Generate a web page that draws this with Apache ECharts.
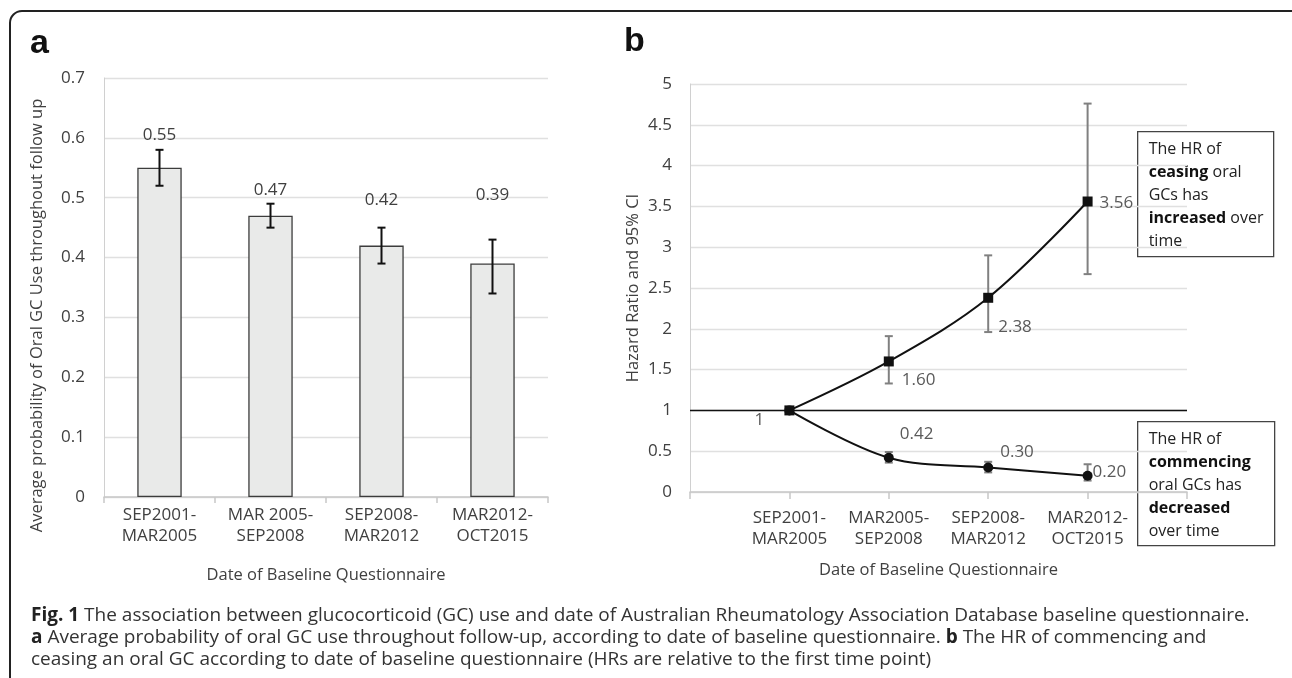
<!DOCTYPE html>
<html>
<head>
<meta charset="utf-8">
<script src="https://cdn.jsdelivr.net/npm/echarts@6/dist/echarts.min.js"></script>
<style>
  html, body { margin: 0; padding: 0; background: #fff; }
  #fig { width: 1292px; height: 678px; }
</style>
</head>
<body>
<div id="fig"></div>
<script>
// panel a: average probability of oral GC use
const periodsA = ['SEP2001-\nMAR2005', 'MAR 2005-\nSEP2008', 'SEP2008-\nMAR2012', 'MAR2012-\nOCT2015']
const gcProb = [0.55, 0.47, 0.42, 0.39]
const gcLow = [0.52, 0.45, 0.39, 0.34]
const gcHigh = [0.58, 0.49, 0.45, 0.43]
const probTicks = [0, 0.7, 0.1]   // min, max, step

// panel b: hazard ratios (first and last category left blank)
const periodsB = ['', 'SEP2001-\nMAR2005', 'MAR2005-\nSEP2008', 'SEP2008-\nMAR2012', 'MAR2012-\nOCT2015', '']
const ceaseHR = [1, 1.60, 2.38, 3.56]
const ceaseLow = [null, 1.33, 1.96, 2.67]
const ceaseHigh = [null, 1.91, 2.90, 4.76]
const commHR = [1, 0.42, 0.30, 0.20]
const commLow = [null, 0.36, 0.24, 0.14]
const commHigh = [null, 0.49, 0.37, 0.34]
const hrTicks = [0, 5, 0.5]

// label placement (px), style only
const barLabelLift = [15, 14, 27, 44]
const ceaseNudge = [[-35, 10], [13, 19], [10, 29], [12, 2]]
const commNudge = [null, [11, -24], [12, -15], [5, -4]]

const FONT = '"Open Sans", "Noto Sans", sans-serif'
const INK = '#404040'
const GRID = '#e0e0e0'

// error bar drawn with a vertical line and two caps
function errorBar(color, width, capHalf, labelFn) {
  return function (params, api) {
    const x = api.value(0)
    const lo = api.value(1)
    const hi = api.value(2)
    const kids = []
    if (!isNaN(lo) && !isNaN(hi)) {
      const top = api.coord([x, hi])
      const bot = api.coord([x, lo])
      const st = { stroke: color, lineWidth: width }
      kids.push(
        { type: 'line', shape: { x1: top[0], y1: top[1], x2: bot[0], y2: bot[1] }, style: st },
        { type: 'line', shape: { x1: top[0] - capHalf, y1: top[1], x2: top[0] + capHalf, y2: top[1] }, style: st },
        { type: 'line', shape: { x1: bot[0] - capHalf, y1: bot[1], x2: bot[0] + capHalf, y2: bot[1] }, style: st }
      )
    }
    const lab = labelFn(params.dataIndex, api)
    if (lab) kids.push(lab)
    return { type: 'group', children: kids }
  }
}

const chart = echarts.init(document.getElementById('fig'), null, { renderer: 'canvas' })

chart.setOption({
  backgroundColor: '#fff',
  animation: false,
  textStyle: { fontFamily: FONT },
  grid: [
    { left: 104, top: 78, width: 444, height: 419 },
    { left: 690, top: 84, width: 497, height: 408 }
  ],
  xAxis: [
    {
      gridIndex: 0, type: 'category', data: periodsA,
      axisLine: { lineStyle: { color: '#c8c8c8', width: 1.5 } },
      axisTick: { show: true, length: 6, lineStyle: { color: '#c8c8c8', width: 1.5 } },
      axisLabel: { color: INK, fontSize: 17, lineHeight: 21, margin: 8, fontFamily: FONT },
      name: 'Date of Baseline Questionnaire', nameLocation: 'middle', nameGap: 70,
      nameTextStyle: { color: INK, fontSize: 16.5, fontFamily: FONT }
    },
    {
      gridIndex: 1, type: 'category', data: periodsB, boundaryGap: false,
      axisLine: { lineStyle: { color: '#c8c8c8', width: 1.5 } },
      axisTick: { show: true, length: 7, interval: 0, lineStyle: { color: '#c8c8c8', width: 1.5 } },
      axisLabel: { color: INK, fontSize: 17, lineHeight: 21, margin: 16, interval: 0, fontFamily: FONT },
      splitLine: { show: false },
      name: 'Date of Baseline Questionnaire', nameLocation: 'middle', nameGap: 70,
      nameTextStyle: { color: INK, fontSize: 16.5, fontFamily: FONT }
    }
  ],
  yAxis: [
    {
      gridIndex: 0, type: 'value', min: probTicks[0], max: probTicks[1], interval: probTicks[2],
      axisLine: { show: true, lineStyle: { color: '#d0d0d0' } },
      axisTick: { show: false },
      axisLabel: { color: INK, fontSize: 17, margin: 19, fontFamily: FONT },
      splitLine: { lineStyle: { color: GRID, width: 1.3 } },
      name: 'Average probability of Oral GC Use throughout follow up',
      nameLocation: 'middle', nameGap: 58,
      nameTextStyle: { color: INK, fontSize: 16.5, fontFamily: FONT, padding: [0, 56, 0, 0] }
    },
    {
      gridIndex: 1, type: 'value', min: hrTicks[0], max: hrTicks[1], interval: hrTicks[2],
      axisLine: { show: true, lineStyle: { color: '#d0d0d0' } },
      axisTick: { show: false },
      axisLabel: { color: INK, fontSize: 17, margin: 18, fontFamily: FONT },
      splitLine: { lineStyle: { color: GRID, width: 1.3 } },
      name: 'Hazard Ratio and 95% CI',
      nameLocation: 'middle', nameGap: 48,
      nameTextStyle: { color: INK, fontSize: 16.5, fontFamily: FONT }
    }
  ],
  series: [
    {
      type: 'bar', xAxisIndex: 0, yAxisIndex: 0,
      data: gcProb, barWidth: '40%',
      itemStyle: { color: '#e9eae9', borderColor: '#3c3c3c', borderWidth: 1.3 },
      silent: true
    },
    {
      type: 'custom', xAxisIndex: 0, yAxisIndex: 0, z: 5,
      data: gcProb.map((v, i) => [i, gcLow[i], gcHigh[i]]),
      renderItem: errorBar('#111', 2, 4, function (i, api) {
        const top = api.coord([i, gcHigh[i]])
        return {
          type: 'text',
          style: {
            x: top[0], y: top[1] - barLabelLift[i], text: gcProb[i].toFixed(2),
            align: 'center', verticalAlign: 'middle',
            fill: INK, font: '17px ' + FONT
          }
        }
      })
    },
    {
      type: 'custom', xAxisIndex: 1, yAxisIndex: 1, z: 2,
      data: ceaseHR.map((v, i) => [i + 1, ceaseLow[i] == null ? NaN : ceaseLow[i], ceaseHigh[i] == null ? NaN : ceaseHigh[i]]),
      renderItem: errorBar('#808080', 2, 4, function (i, api) {
        const p = api.coord([i + 1, ceaseHR[i]])
        return {
          type: 'text',
          style: {
            x: p[0] + ceaseNudge[i][0], y: p[1] + ceaseNudge[i][1],
            text: i === 0 ? '1' : ceaseHR[i].toFixed(2),
            align: 'left', verticalAlign: 'middle',
            fill: '#5a5a5a', font: '17px ' + FONT
          }
        }
      })
    },
    {
      type: 'custom', xAxisIndex: 1, yAxisIndex: 1, z: 2,
      data: commHR.map((v, i) => [i + 1, commLow[i] == null ? NaN : commLow[i], commHigh[i] == null ? NaN : commHigh[i]]),
      renderItem: errorBar('#808080', 2, 4, function (i, api) {
        if (!commNudge[i]) return null
        const p = api.coord([i + 1, commHR[i]])
        return {
          type: 'text',
          style: {
            x: p[0] + commNudge[i][0], y: p[1] + commNudge[i][1],
            text: commHR[i].toFixed(2),
            align: 'left', verticalAlign: 'middle',
            fill: '#5a5a5a', font: '17px ' + FONT
          }
        }
      })
    },
    {
      name: 'ceasing', type: 'line', xAxisIndex: 1, yAxisIndex: 1, z: 4,
      data: ceaseHR.map((v, i) => [i + 1, v]),
      smooth: 0.35, symbol: 'rect', symbolSize: 10,
      lineStyle: { color: '#111', width: 2 }, itemStyle: { color: '#111' },
      markLine: {
        silent: true, symbol: ['none', 'none'], label: { show: false },
        lineStyle: { color: '#111', width: 1.3, type: 'solid' },
        data: [{ yAxis: 1 }]
      }
    },
    {
      name: 'commencing', type: 'line', xAxisIndex: 1, yAxisIndex: 1, z: 4,
      data: commHR.map((v, i) => [i + 1, v]),
      smooth: 0.35, symbol: 'circle', symbolSize: 10,
      lineStyle: { color: '#111', width: 2 }, itemStyle: { color: '#111' }
    }
  ],
  graphic: [
    {
      type: 'rect', z: -1, silent: true,
      shape: { x: 10, y: 11, width: 1320, height: 700, r: 12 },
      style: { fill: null, stroke: '#222', lineWidth: 2 }
    },
    { type: 'text', left: 30, top: 27, style: { text: 'a', font: 'bold 34px "Liberation Sans", Arial, sans-serif', fill: '#111' } },
    { type: 'text', left: 624, top: 25, style: { text: 'b', font: 'bold 34px "Liberation Sans", Arial, sans-serif', fill: '#111' } },
    {
      type: 'group', left: 1137, top: 131, z: 10,
      children: [
        { type: 'rect', shape: { x: 0, y: 0, width: 136, height: 125 }, style: { fill: '#fff', stroke: '#444', lineWidth: 1.3 } },
        {
          type: 'text', x: 11, y: 6,
          style: {
            text: 'The HR of\n{b|ceasing} oral\nGCs has\n{b|increased} over\ntime',
            font: '16px ' + FONT, fill: '#222', lineHeight: 23,
            rich: { b: { fontWeight: 'bold', fontSize: 16, fontFamily: FONT, lineHeight: 23, fill: '#111' } }
          }
        }
      ]
    },
    {
      type: 'group', left: 1137, top: 421, z: 10,
      children: [
        { type: 'rect', shape: { x: 0, y: 0, width: 137, height: 124 }, style: { fill: '#fff', stroke: '#444', lineWidth: 1.3 } },
        {
          type: 'text', x: 11, y: 6,
          style: {
            text: 'The HR of\n{b|commencing}\noral GCs has\n{b|decreased}\nover time',
            font: '16px ' + FONT, fill: '#222', lineHeight: 23,
            rich: { b: { fontWeight: 'bold', fontSize: 16, fontFamily: FONT, lineHeight: 23, fill: '#111' } }
          }
        }
      ]
    },
    {
      type: 'text', left: 31, top: 605,
      style: {
        text: '{b|Fig. 1} The association between glucocorticoid (GC) use and date of Australian Rheumatology Association Database baseline questionnaire.\n' +
          '{b|a} Average probability of oral GC use throughout follow-up, according to date of baseline questionnaire. {b|b} The HR of commencing and\n' +
          'ceasing an oral GC according to date of baseline questionnaire (HRs are relative to the first time point)',
        font: '19px ' + FONT, fill: '#333', lineHeight: 22,
        rich: { b: { fontWeight: 'bold', fontSize: 19, fontFamily: FONT, lineHeight: 22, fill: '#222' } }
      }
    }
  ]
})
</script>
</body>
</html>
